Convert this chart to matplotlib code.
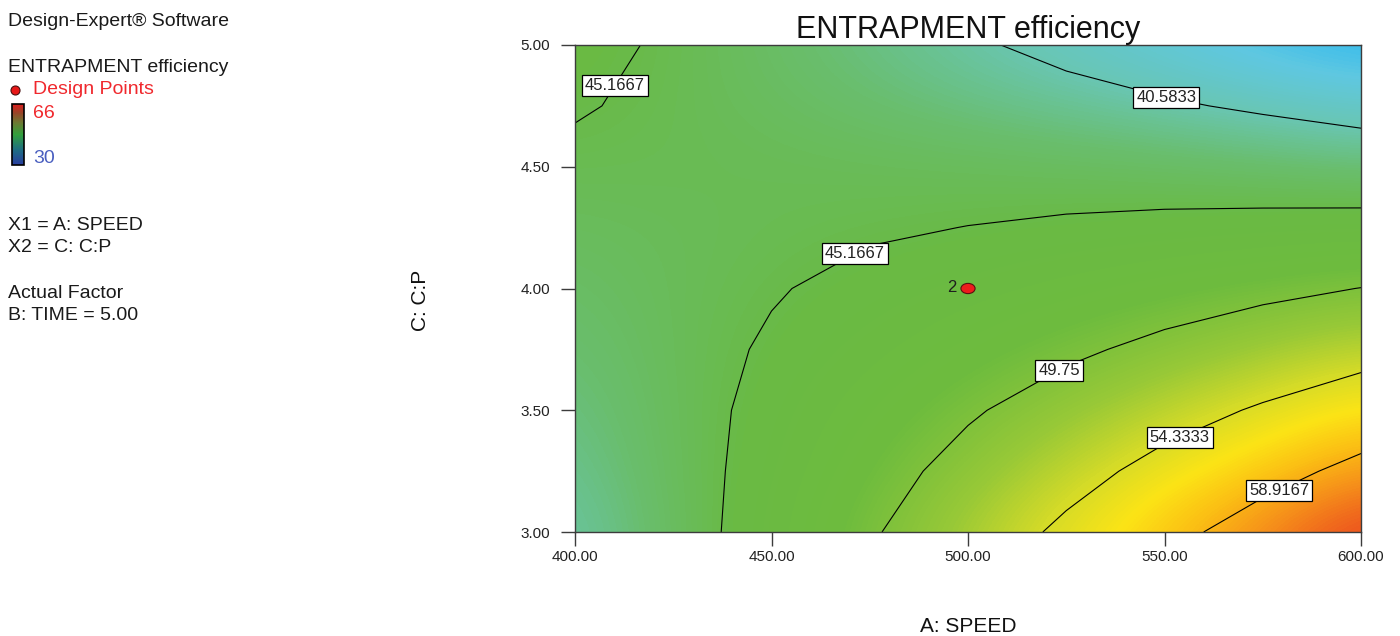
import numpy as np
import matplotlib
matplotlib.use("Agg")
import matplotlib.pyplot as plt
import matplotlib.colorbar as mcolorbar
from matplotlib.colors import LinearSegmentedColormap, Normalize
from matplotlib.lines import Line2D
from matplotlib.patches import Ellipse

# ── Response surface: entrapment efficiency over SPEED x C:P (TIME = 5.00) ──
SPEED = [400, 425, 450, 475, 500, 525, 550, 575, 600]
CP = [3.00, 3.25, 3.50, 3.75, 4.00, 4.25, 4.50, 4.75, 5.00]
EE_300 = [41.0, 43.8, 46.6, 49.4, 52.2, 55.0, 57.8, 60.6, 63.3]
EE_325 = [41.7, 44.0, 46.2, 48.5, 50.8, 53.1, 55.4, 57.6, 59.9]
EE_350 = [42.3, 44.1, 45.9, 47.7, 49.4, 51.2, 53.0, 54.7, 56.5]
EE_375 = [42.9, 44.2, 45.45, 46.7, 47.95, 49.2, 50.5, 51.8, 53.0]
EE_400 = [43.45, 44.25, 45.0, 45.8, 46.6, 47.4, 48.2, 49.0, 49.8]
EE_425 = [44.0, 44.3, 44.6, 44.9, 45.2, 45.5, 45.8, 46.05, 46.3]
EE_450 = [44.65, 44.6, 44.5, 44.35, 44.2, 44.0, 43.7, 43.3, 42.8]
EE_475 = [45.37, 44.63, 43.9, 43.15, 42.4, 41.7, 40.95, 40.14, 39.3]
EE_500 = [46.0, 44.75, 43.5, 42.3, 41.0, 39.75, 38.45, 37.2, 36.2]

LEVELS = [40.5833, 45.1667, 49.75, 54.3333, 58.9167]
LEVEL_TXT = ["40.5833", "45.1667", "49.75", "54.3333", "58.9167"]

DESIGN_X = [500]
DESIGN_Y = [4.00]
DESIGN_N = ["2"]

EE_LOW, EE_HIGH = 30, 66
X_TICKS = [400, 450, 500, 550, 600]
Y_TICKS = [3.00, 3.50, 4.00, 4.50, 5.00]

# where the contour value boxes sit
LABEL_POS = [(409.4, 4.84), (550.6, 4.80), (470.0, 4.18),
             (522.0, 3.70), (553.0, 3.42), (578.6, 3.19)]

# ── Colours ──
_surf_stops = [
    (30.0, "#143cc8"), (35.5, "#1eb4f5"), (38.0, "#5fc8e1"),
    (40.5, "#69c6b4"), (43.0, "#69be6e"), (45.5, "#6aba44"),
    (48.5, "#6ebc3e"), (51.5, "#98c937"), (54.0, "#d4db28"),
    (56.2, "#fce416"), (58.2, "#fbbe14"), (60.2, "#f6901a"),
    (62.2, "#ee5c1e"), (64.2, "#e43c1e"), (66.0, "#dc281e"),
]
surf_cmap = LinearSegmentedColormap.from_list(
    "ee_surface", [((v - EE_LOW) / (EE_HIGH - EE_LOW), c) for v, c in _surf_stops])

legend_cmap = LinearSegmentedColormap.from_list(
    "ee_legend", [(0.0, "#283ca0"), (0.25, "#1e6e82"), (0.5, "#32a03c"),
                  (0.7, "#6e7832"), (0.85, "#964628"), (1.0, "#dc1e1e")])

plt.rcParams["font.family"] = ["Liberation Sans", "DejaVu Sans"]

W, H = 1400, 636
fig = plt.figure(figsize=(W / 100, H / 100), dpi=100)
fig.patch.set_facecolor("white")


def fx(px):
    return px / W


def fy(py):
    return 1 - py / H


ax = fig.add_axes([fx(575), fy(532), fx(786), 487 / H])

Z = np.array([EE_300, EE_325, EE_350, EE_375, EE_400,
              EE_425, EE_450, EE_475, EE_500])
norm = Normalize(EE_LOW, EE_HIGH)
hx = (SPEED[1] - SPEED[0]) / 2
hy = (CP[1] - CP[0]) / 2
ax.imshow(Z, origin="lower", aspect="auto", cmap=surf_cmap, norm=norm,
          extent=(SPEED[0] - hx, SPEED[-1] + hx, CP[0] - hy, CP[-1] + hy),
          interpolation="bicubic", interpolation_stage="data", zorder=1)

cs = ax.contour(SPEED, CP, Z, levels=LEVELS, colors="black",
                linewidths=0.8, zorder=2)
labels = ax.clabel(cs, fmt=dict(zip(cs.levels, LEVEL_TXT)), manual=LABEL_POS,
                   inline=False, fontsize=12)
for t in labels:
    t.set_rotation(0)
    t.set_color("#222222")
    t.set_bbox(dict(boxstyle="square,pad=0.18", fc="white", ec="black", lw=0.9))
    t.set_zorder(6)

# design point
for x, y, n in zip(DESIGN_X, DESIGN_Y, DESIGN_N):
    ax.add_patch(Ellipse((x, y), width=3.6, height=0.042, fc="#ee1c1c",
                         ec="#5a1010", lw=0.8, zorder=5))
    ax.annotate(n, (x, y), xytext=(-8, 1), textcoords="offset points",
                ha="right", va="center", fontsize=12, color="#1e1e1e", zorder=5)

ax.set_xlim(SPEED[0], SPEED[-1])
ax.set_ylim(CP[0], CP[-1])
ax.set_xticks(X_TICKS)
ax.set_yticks(Y_TICKS)
ax.set_xticklabels([f"{v:.2f}" for v in X_TICKS])
ax.set_yticklabels([f"{v:.2f}" for v in Y_TICKS])
ax.tick_params(direction="out", length=10, width=1, color="#3c3c3c",
               labelsize=11, labelcolor="#222222")
ax.tick_params(axis="x", pad=3)
ax.tick_params(axis="y", pad=8)
for s in ax.spines.values():
    s.set_color("#3c3c3c")
    s.set_linewidth(1.0)

ax.set_title("ENTRAPMENT efficiency", fontsize=22, pad=5, color="#111111")
fig.text(fx(968), fy(627), "A: SPEED", ha="center", va="center",
         fontsize=15, color="#111111")
fig.text(fx(420), fy(300), "C: C:P", ha="center", va="center",
         rotation=90, fontsize=15, color="#111111")

# ── Left information panel ──
_info = dict(ha="left", va="center", fontsize=14, color="#1a1a1a")
fig.text(fx(8), fy(22), "Design-Expert\u00ae Software", **_info)
fig.text(fx(8), fy(68), "ENTRAPMENT efficiency", **_info)
fig.text(fx(33), fy(90), "Design Points", ha="left", va="center",
         fontsize=14, color="#f0282d")
fig.add_artist(Line2D([fx(15)], [fy(90)], marker="o", ms=6.5, mfc="#e81818",
                      mec="#4a1010", mew=0.8, ls="none",
                      transform=fig.transFigure))
fig.text(fx(33), fy(113), f"{EE_HIGH}", ha="left", va="center",
         fontsize=14, color="#f0282d")
fig.text(fx(33), fy(158), f"{EE_LOW}", ha="left", va="center",
         fontsize=14, color="#4a5fc0")
fig.text(fx(8), fy(225), "X1 = A: SPEED", **_info)
fig.text(fx(8), fy(247), "X2 = C: C:P", **_info)
fig.text(fx(8), fy(293), "Actual Factor", **_info)
fig.text(fx(8), fy(316), "B: TIME = 5.00", **_info)

cax = fig.add_axes([fx(12), fy(165), fx(12), 61 / H])
cb = mcolorbar.ColorbarBase(cax, cmap=legend_cmap, norm=norm,
                            orientation="vertical")
cb.set_ticks([])
cb.outline.set_edgecolor("black")
cb.outline.set_linewidth(1.2)

fig.savefig("out.png", dpi=100, facecolor="white")
